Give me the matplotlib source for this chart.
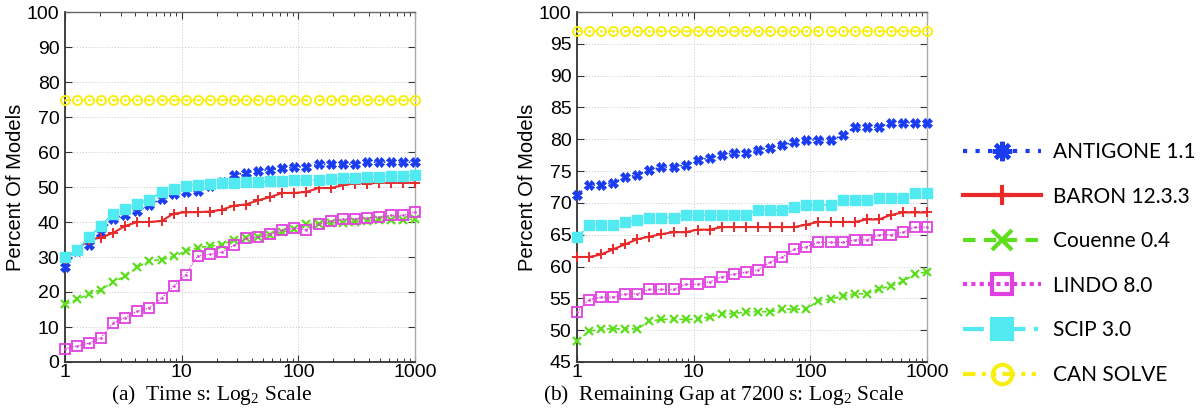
import matplotlib
matplotlib.use("Agg")
import matplotlib.pyplot as plt
from matplotlib.lines import Line2D
from matplotlib.ticker import FixedLocator, FixedFormatter, LogLocator, NullFormatter

plt.rcParams["mathtext.fontset"] = "custom"
plt.rcParams["mathtext.rm"] = "Liberation Serif"
plt.rcParams["mathtext.it"] = "Liberation Serif:italic"

# ---------------- data ----------------
x_pts = [1.0, 1.27, 1.61, 2.04, 2.59, 3.29, 4.18, 5.30, 6.72, 8.53,
         10.8, 13.7, 17.4, 22.1, 28.1, 35.6, 45.2, 57.4, 72.8, 92.4,
         117, 149, 189, 240, 304, 386, 489, 621, 788, 1000]

# (a) Time
time_antigone = [27.1, 31.7, 33.3, 37.0, 41.0, 42.1, 43.1, 44.8, 46.7, 47.9,
                 48.7, 48.8, 50.4, 51.3, 53.4, 54.1, 54.6, 55.0, 55.3, 55.7,
                 55.8, 56.5, 56.5, 56.5, 56.5, 57.1, 57.1, 57.1, 57.1, 57.1]
time_baron = [29.5, 32.1, 35.0, 35.5, 36.9, 38.9, 40.0, 40.0, 40.3, 42.4,
              42.8, 42.8, 43.0, 43.5, 44.7, 45.0, 46.2, 47.1, 48.3, 48.3,
              48.6, 49.7, 49.7, 50.5, 51.0, 51.0, 51.2, 51.2, 51.2, 51.2]
time_couenne = [16.5, 17.9, 19.4, 20.7, 22.9, 24.5, 27.1, 28.9, 29.2, 30.2,
                31.6, 32.7, 33.1, 33.5, 34.8, 35.4, 35.7, 36.4, 37.1, 38.0,
                39.3, 39.5, 39.8, 39.8, 40.0, 40.3, 40.5, 40.5, 40.7, 40.8]
time_lindo = [3.8, 4.6, 5.4, 7.0, 11.2, 12.7, 14.5, 15.5, 18.3, 21.7,
              24.9, 30.3, 30.8, 31.4, 33.3, 35.3, 35.7, 36.5, 37.8, 38.2,
              37.8, 39.3, 40.3, 40.8, 41.0, 41.1, 41.4, 41.9, 41.9, 42.9]
time_scip = [30.0, 31.9, 35.7, 39.0, 42.4, 43.6, 45.2, 46.4, 48.6, 49.3,
             50.2, 50.7, 51.0, 51.1, 51.2, 51.3, 51.3, 51.6, 51.6, 51.9,
             52.0, 52.1, 52.3, 52.5, 52.6, 52.9, 53.0, 53.1, 53.2, 53.3]
time_cansolve = [75.0] * 30

# (b) Remaining gap
gap_antigone = [71.2, 72.8, 72.8, 73.2, 74.0, 74.4, 75.2, 75.6, 75.6, 76.0,
                76.7, 77.1, 77.5, 77.9, 77.9, 78.3, 78.7, 79.1, 79.5, 79.9,
                79.9, 79.9, 80.6, 81.9, 81.9, 81.9, 82.6, 82.6, 82.6, 82.6]
gap_baron = [61.5, 61.5, 61.9, 62.7, 63.5, 64.3, 64.7, 65.1, 65.4, 65.4,
             65.8, 65.8, 66.2, 66.2, 66.2, 66.2, 66.2, 66.2, 66.2, 66.6,
             67.0, 67.0, 67.0, 67.0, 67.4, 67.4, 68.1, 68.5, 68.5, 68.5]
gap_couenne = [48.3, 49.8, 50.2, 50.2, 50.2, 50.2, 51.4, 51.7, 51.7, 51.7,
               51.7, 52.1, 52.6, 52.6, 52.9, 52.9, 52.9, 53.3, 53.3, 53.3,
               54.6, 54.9, 55.3, 55.7, 55.7, 56.5, 56.9, 57.7, 58.8, 59.2]
gap_lindo = [52.9, 54.8, 55.2, 55.2, 55.7, 55.7, 56.4, 56.4, 56.4, 57.2,
             57.2, 57.6, 58.4, 58.8, 59.1, 59.5, 60.7, 61.5, 62.7, 63.1,
             63.8, 63.8, 63.8, 64.2, 64.2, 65.0, 65.0, 65.4, 66.2, 66.2]
gap_scip = [64.6, 66.5, 66.5, 66.5, 67.0, 67.3, 67.7, 67.7, 67.7, 68.1,
            68.1, 68.1, 68.1, 68.1, 68.1, 68.9, 68.9, 68.9, 69.3, 69.7,
            69.7, 69.7, 70.5, 70.5, 70.5, 70.8, 70.8, 70.8, 71.6, 71.6]
gap_cansolve = [97.0] * 30

labels = ["ANTIGONE 1.1", "BARON 12.3.3", "Couenne 0.4", "LINDO 8.0", "SCIP 3.0", "CAN SOLVE"]
x_ticks = [1, 10, 100, 1000]
x_tick_labels = ["1", "10", "100", "1000"]
y_ticks_a = list(range(0, 101, 10))
y_ticks_b = list(range(45, 101, 5))
caption_a = r"(a)  Time s: Log$_2$ Scale"
caption_b = r"(b)  Remaining Gap at 7200 s: Log$_2$ Scale"
ylabel = "Percent Of Models"

# ---------------- styles ----------------
C_BLUE = "#1a3cf0"
C_RED = "#e82a2a"
C_GREEN = "#5ede1e"
C_MAG = "#e040e0"
C_CYAN = "#50eaf0"
C_YEL = "#f8ee10"

styles = [
    dict(color=C_BLUE, ls=(0, (1, 2)), lw=1.2, marker="X", ms=7, mew=0.6, mfc=C_BLUE, mec=C_BLUE),
    dict(color=C_RED, ls="-", lw=1.5, marker="+", ms=7, mew=1.4, mfc=C_RED, mec=C_RED),
    dict(color=C_GREEN, ls=(0, (3, 2)), lw=1.2, marker="x", ms=6, mew=1.6, mfc=C_GREEN, mec=C_GREEN),
    dict(color=C_MAG, ls=(0, (1, 1)), lw=0.9, marker="s", ms=6.5, mew=1.3, mfc="none", mec=C_MAG),
    dict(color=C_CYAN, ls=(0, (5, 2, 1, 2)), lw=1.3, marker="s", ms=6.5, mew=1.0, mfc=C_CYAN, mec=C_CYAN),
    dict(color=C_YEL, ls=(0, (3, 1.5, 1, 1.5, 1, 1.5)), lw=1.2, marker="o", ms=6.5, mew=1.4, mfc="none", mec=C_YEL),
]
legend_markers = [(8, 2, 0), "+", "x", "s", "s", "o"]

fig = plt.figure(figsize=(12.04, 4.12), dpi=100)

ax_a = fig.add_axes([65 / 1204, 1 - 362 / 412, 350 / 1204, 350 / 412])
ax_b = fig.add_axes([577 / 1204, 1 - 362 / 412, 350 / 1204, 350 / 412])

series_a = [time_antigone, time_baron, time_couenne, time_lindo, time_scip, time_cansolve]
series_b = [gap_antigone, gap_baron, gap_couenne, gap_lindo, gap_scip, gap_cansolve]

def style_axes(ax, yticks, ylim):
    ax.set_xscale("log")
    ax.set_xlim(1, 1000)
    ax.set_ylim(*ylim)
    ax.xaxis.set_major_locator(FixedLocator(x_ticks))
    ax.xaxis.set_major_formatter(FixedFormatter(x_tick_labels))
    ax.xaxis.set_minor_locator(LogLocator(base=10, subs=range(2, 10)))
    ax.xaxis.set_minor_formatter(NullFormatter())
    ax.set_yticks(yticks)
    ax.set_yticklabels([str(v) for v in yticks])
    for lab in ax.get_xticklabels() + ax.get_yticklabels():
        lab.set_fontfamily("Liberation Sans")
        lab.set_fontsize(14)
    ax.tick_params(which="major", direction="in", length=5, width=0.8, top=True, right=True,
                   color="#333333", pad=4)
    ax.tick_params(which="minor", direction="in", length=3, width=0.7, top=True, right=True,
                   color="#333333")
    ax.tick_params(axis="x", which="major", pad=1.5)
    ax.grid(True, which="major", ls=(0, (1, 2)), color="#c8c8c8", lw=0.7)
    ax.set_axisbelow(True)
    ax.spines["left"].set_color("#333333")
    ax.spines["bottom"].set_color("#333333")
    ax.spines["left"].set_linewidth(1.3)
    ax.spines["bottom"].set_linewidth(1.3)
    ax.spines["top"].set_color("#666666")
    ax.spines["right"].set_color("#aaaaaa")
    ax.spines["top"].set_linewidth(1.0)
    ax.spines["right"].set_linewidth(1.0)
    ax.set_ylabel(ylabel, fontfamily="Liberation Sans", fontsize=14.5, labelpad=1)

for ax, series in ((ax_a, series_a), (ax_b, series_b)):
    for vals, st in zip(series, styles):
        ax.plot(x_pts, vals, clip_on=False, zorder=3, **st)
    # small dots inside LINDO squares and CAN SOLVE circles
    ax.plot(x_pts, series[3], ls="none", marker=".", ms=1.8, color=C_MAG, clip_on=False, zorder=4)
    ax.plot(x_pts, series[5], ls="none", marker=".", ms=1.8, color=C_YEL, clip_on=False, zorder=4)

style_axes(ax_a, y_ticks_a, (0, 100))
style_axes(ax_b, y_ticks_b, (45, 100))

fig.text(212 / 1204, 1 - 395 / 412, caption_a, ha="center", va="center",
         fontfamily="Liberation Serif", fontsize=15.5)
fig.text(724 / 1204, 1 - 395 / 412, caption_b, ha="center", va="center",
         fontfamily="Liberation Serif", fontsize=15.5)

# legend
handles = []
for st, mk in zip(styles, legend_markers):
    h = dict(st)
    h["marker"] = mk
    h["lw"] = 3.0
    h["ms"] = 14
    h["mew"] = 3.0
    handles.append(Line2D([], [], **h))
leg = fig.legend(handles, labels, loc="upper left", bbox_to_anchor=(963 / 1204, 1 - 142 / 412),
                 frameon=False, prop=dict(family="Lato", size=15), handlelength=3.75,
                 handletextpad=0.55, labelspacing=1.18, borderpad=0, borderaxespad=0)

fig.savefig("out.png", dpi=100)
